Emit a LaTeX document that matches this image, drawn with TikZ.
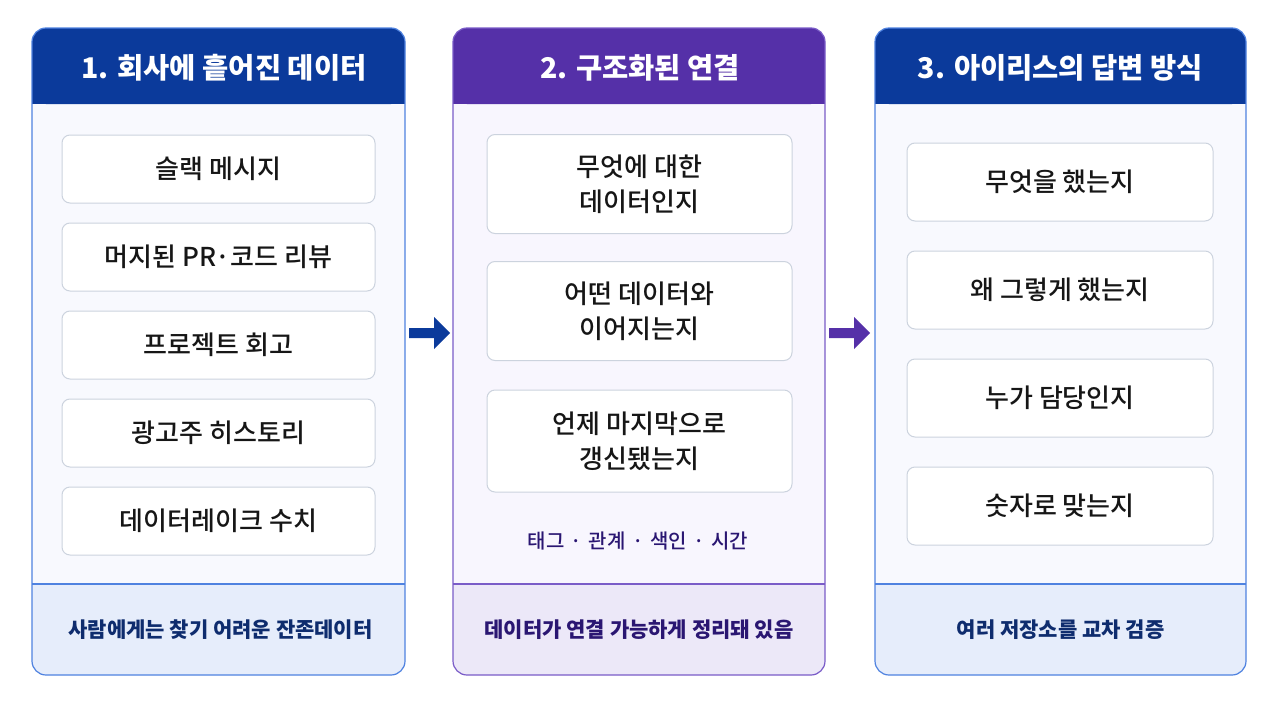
\documentclass[tikz,border=0pt]{standalone}
\usepackage{fontspec}
\setmainfont{Noto Sans CJK KR}
\newfontfamily\medfont{Noto Sans CJK KR Medium}
\definecolor{hdrblue}{HTML}{0B3A9B}
\definecolor{hdrpurple}{HTML}{5530A8}
\definecolor{bdblue}{HTML}{4F82E0}
\definecolor{bdpurple}{HTML}{7A5CC8}
\definecolor{panelfill}{HTML}{F8F9FE}
\definecolor{panelfillp}{HTML}{F8F6FE}
\definecolor{footblue}{HTML}{E6EDFB}
\definecolor{footpurple}{HTML}{ECE8F8}
\definecolor{itemborder}{HTML}{CCD3DE}
\definecolor{txtnavy}{HTML}{0E2C6E}
\definecolor{txtpurple}{HTML}{2A1672}
\definecolor{txtdark}{HTML}{161616}
\tikzset{
  itembox/.style={draw=itemborder,line width=1pt,fill=white,rounded corners=8pt,align=center,
     font=\medfont\fontsize{26}{35}\selectfont,text=txtdark},
  hdrtext/.style={font=\bfseries\fontsize{28.5}{34}\selectfont,text=white},
  foottext/.style={font=\bfseries\fontsize{21}{26}\selectfont},
}
\begin{document}
\begin{tikzpicture}[x=1pt,y=-1pt]
\useasboundingbox[fill=white] (0,0) rectangle (1280,720);
% Panel 1
\fill[panelfill,rounded corners=14pt] (32,28) rectangle (405,675);
\fill[footblue,rounded corners=14pt] (32,584) rectangle (405,675);
\fill[footblue] (32,584) rectangle (405,620);
\fill[hdrblue,rounded corners=14pt] (32,28) rectangle (405,104);
\fill[hdrblue] (32,70) rectangle (405,104);
\draw[bdblue,line width=1.2pt] (32,584) -- (405,584);
\draw[bdblue,line width=1.2pt,rounded corners=14pt] (32,28) rectangle (405,675);
\node[hdrtext] (h1) at (224,68) {1. 회사에 흩어진 데이터};
\node[itembox,minimum width=313pt,minimum height=68pt] (a1) at (218.5,169) {슬랙 메시지};
\node[itembox,minimum width=313pt,minimum height=68pt] (a2) at (218.5,257) {머지된 PR·코드 리뷰};
\node[itembox,minimum width=313pt,minimum height=68pt] (a3) at (218.5,345) {프로젝트 회고};
\node[itembox,minimum width=313pt,minimum height=68pt] (a4) at (218.5,433) {광고주 히스토리};
\node[itembox,minimum width=313pt,minimum height=68pt] (a5) at (218.5,521) {데이터레이크 수치};
\node[foottext,text=txtnavy] (f1) at (220.5,630) {사람에게는 찾기 어려운 잔존데이터};
% Panel 2
\fill[panelfillp,rounded corners=14pt] (453,28) rectangle (825,675);
\fill[footpurple,rounded corners=14pt] (453,584) rectangle (825,675);
\fill[footpurple] (453,584) rectangle (825,620);
\fill[hdrpurple,rounded corners=14pt] (453,28) rectangle (825,104);
\fill[hdrpurple] (453,70) rectangle (825,104);
\draw[bdpurple,line width=1.2pt] (453,584) -- (825,584);
\draw[bdpurple,line width=1.2pt,rounded corners=14pt] (453,28) rectangle (825,675);
\node[hdrtext] (h2) at (640,68) {2. 구조화된 연결};
\node[itembox,minimum width=305pt,minimum height=99pt] (b1) at (639.5,184) {무엇에 대한\\데이터인지};
\node[itembox,minimum width=305pt,minimum height=99pt] (b2) at (639.5,311) {어떤 데이터와\\이어지는지};
\node[itembox,minimum width=305pt,minimum height=102pt] (b3) at (639.5,441) {언제 마지막으로\\갱신됐는지};
\node[font=\medfont\fontsize{20}{24}\selectfont,text=txtpurple] (tags) at (638,541) {태그\kern2pt{} · \kern2pt관계\kern2pt{} · \kern2pt색인\kern2pt{} · \kern2pt시간};
\node[foottext,text=txtpurple] (f2) at (639,630) {데이터가 연결 가능하게 정리돼 있음};
% Panel 3
\fill[panelfill,rounded corners=14pt] (875,28) rectangle (1246,675);
\fill[footblue,rounded corners=14pt] (875,584) rectangle (1246,675);
\fill[footblue] (875,584) rectangle (1246,620);
\fill[hdrblue,rounded corners=14pt] (875,28) rectangle (1246,104);
\fill[hdrblue] (875,70) rectangle (1246,104);
\draw[bdblue,line width=1.2pt] (875,584) -- (1246,584);
\draw[bdblue,line width=1.2pt,rounded corners=14pt] (875,28) rectangle (1246,675);
\node[hdrtext] (h3) at (1060.5,68) {3. 아이리스의 답변 방식};
\node[itembox,minimum width=306pt,minimum height=78pt] (c1) at (1060,182) {무엇을 했는지};
\node[itembox,minimum width=306pt,minimum height=78pt] (c2) at (1060,290) {왜 그렇게 했는지};
\node[itembox,minimum width=306pt,minimum height=78pt] (c3) at (1060,398) {누가 담당인지};
\node[itembox,minimum width=306pt,minimum height=78pt] (c4) at (1060,506) {숫자로 맞는지};
\node[foottext,text=txtnavy] (f3) at (1060.5,630) {여러 저장소를 교차 검증};
% Arrows
\fill[hdrblue] (409,328) -- (434,328) -- (434,317) -- (450,333) -- (434,349) -- (434,338) -- (409,338) -- cycle;
\fill[hdrpurple] (829,328) -- (854,328) -- (854,317) -- (870,333) -- (854,349) -- (854,338) -- (829,338) -- cycle;
\end{tikzpicture}
\end{document}
